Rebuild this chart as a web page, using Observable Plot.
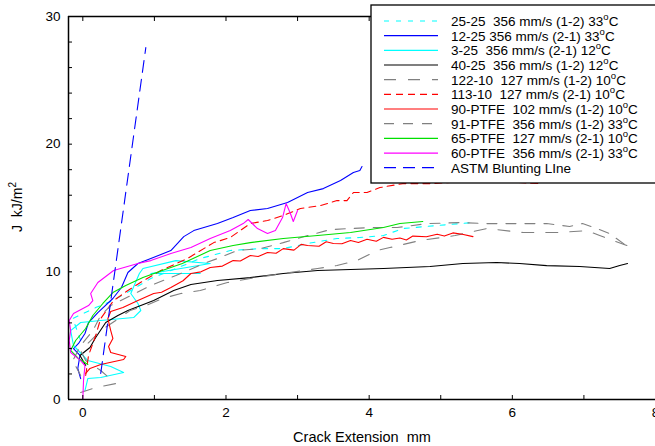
<!DOCTYPE html>
<html><head><meta charset="utf-8">
<script src="https://cdn.jsdelivr.net/npm/d3@7"></script>
<script src="https://cdn.jsdelivr.net/npm/@observablehq/plot@0.6"></script>
<style>
body{margin:0;background:#fff;}
#chart{width:655px;height:446px;overflow:hidden;}
text{font-family:"Liberation Sans",Arial,sans-serif;}
</style></head><body><div id="chart"></div>
<script>
// ---- data: [crack extension mm, J kJ/m^2] ----
const s25_25 = [[-0.03,4.62],[-0.14,6.34],[0.18,7.20],[0.42,7.75],[0.67,8.54],[0.95,9.48],[1.30,10.26],[1.64,11.04],[2.06,11.67],[2.48,11.82],[2.80,11.82],[3.14,12.22],[3.55,12.61],[3.87,12.69],[4.20,12.84],[4.47,13.39],[4.95,13.63],[5.45,13.86]];
const s12_25 = [[-0.03,1.64],[-0.07,2.43],[-0.04,3.45],[-0.13,3.99],[-0.06,4.39],[0.03,5.17],[0.08,6.03],[0.21,6.81],[0.42,7.91],[0.54,8.77],[0.63,9.95],[0.77,10.65],[0.95,11.04],[1.23,11.67],[1.41,12.76],[1.55,13.23],[1.88,13.78],[2.10,14.25],[2.34,14.80],[2.58,14.96],[2.86,15.43],[3.14,16.21],[3.36,16.52],[3.60,17.15],[3.78,17.78],[3.87,17.93],[3.90,18.25]];
const s3_25 = [[0.03,0.70],[0.07,1.64],[0.25,1.72],[0.57,2.11],[0.39,2.58],[0.07,3.05],[-0.13,4.23],[-0.17,5.40],[-0.03,6.03],[0.25,6.19],[0.71,6.42],[0.81,6.97],[0.77,7.52],[0.67,8.30],[0.79,9.87],[0.84,10.26],[1.30,10.88],[1.78,10.65],[1.37,10.26],[0.95,9.87],[1.64,9.87]];
const s40_25 = [[0.04,2.66],[-0.04,3.45],[0.10,4.07],[0.18,4.86],[0.32,6.03],[0.49,6.58],[0.63,6.97],[0.81,7.36],[0.99,7.75],[1.27,8.54],[1.51,9.01],[1.88,9.32],[2.34,9.55],[2.80,9.87],[3.28,10.10],[3.74,10.18],[4.20,10.26],[4.85,10.42],[5.31,10.65],[5.78,10.73],[6.10,10.65],[6.48,10.49],[6.94,10.42],[7.36,10.26],[7.50,10.49],[7.61,10.65]];
const s122_10 = [[-0.03,0.55],[0.18,0.94],[0.46,1.25],[0.25,2.27],[0.04,3.05],[-0.03,3.84],[0.11,4.62],[0.25,5.40],[0.46,6.19],[0.66,6.97],[0.88,7.36],[1.11,7.91],[1.37,8.30],[1.64,8.54],[2.02,9.16],[2.34,9.48],[2.80,9.87],[3.28,10.26],[3.55,10.49],[3.83,10.88],[4.11,11.67],[4.29,11.90],[4.71,12.45],[5.20,12.84],[5.64,13.39],[6.15,13.08],[6.66,13.08],[7.04,13.23],[7.22,12.84],[7.60,12.06]];
const s113_10 = [[0.04,1.88],[0.08,3.45],[0.18,5.01],[0.25,6.34],[0.43,7.75],[0.63,8.54],[0.85,9.32],[1.09,10.10],[1.46,11.04],[1.83,12.29],[2.06,12.69],[2.34,13.78],[2.58,14.02],[2.80,14.41],[3.04,14.96],[3.32,15.19],[3.55,15.58],[3.69,15.58],[3.78,16.21],[3.97,16.21],[4.15,16.60],[4.47,16.91],[4.88,16.91],[5.55,17.15],[6.38,16.91]];
const s90_PTFE = [[0.04,2.04],[0.10,2.43],[0.25,2.74],[0.57,3.13],[0.60,3.37],[0.39,3.68],[0.36,4.15],[0.42,4.78],[0.39,5.40],[0.35,6.34],[0.39,6.89],[0.56,7.20],[0.77,7.75],[0.99,8.30],[1.10,8.40],[1.23,8.77],[1.40,9.30],[1.51,9.87],[1.65,10.00],[1.78,10.34],[1.95,10.45],[2.10,10.88],[2.20,10.85],[2.34,11.28],[2.45,11.20],[2.58,11.51],[2.70,11.45],[2.80,11.82],[2.95,11.70],[3.05,12.15],[3.14,12.06],[3.30,12.00],[3.40,12.35],[3.50,12.22],[3.62,12.20],[3.74,12.45],[3.85,12.30],[3.97,12.55],[4.10,12.40],[4.20,12.70],[4.32,12.55],[4.43,12.65],[4.52,12.50],[4.61,12.80],[4.80,12.75],[4.95,12.95],[5.05,12.80],[5.17,13.05],[5.30,12.95],[5.45,12.76]];
const s91_PTFE = [[-0.03,1.88],[-0.14,3.05],[-0.03,4.23],[0.14,5.40],[0.25,6.58],[0.39,7.36],[0.67,8.14],[0.95,8.93],[1.30,9.71],[1.69,10.65],[1.88,11.04],[2.16,11.67],[2.48,11.82],[2.80,12.29],[3.14,12.84],[3.46,13.31],[3.74,13.39],[4.01,13.47],[4.39,13.47],[4.81,13.78],[5.27,13.86],[5.64,13.78],[6.15,13.78],[6.48,13.78],[6.80,13.55],[6.98,13.78],[7.18,13.39],[7.36,13.00],[7.61,11.98]];
const s65_PTFE = [[0.07,2.74],[-0.06,3.21],[-0.17,3.84],[-0.10,4.62],[0.04,5.56],[0.14,6.58],[0.28,7.52],[0.42,8.38],[0.60,8.93],[0.84,9.55],[1.11,10.10],[1.39,10.65],[1.78,11.67],[2.10,12.06],[2.34,12.29],[2.80,12.61],[3.28,12.84],[3.74,13.08],[4.20,13.47],[4.43,13.78],[4.75,13.94]];
const s60_PTFE = [[0,0],[0.01,1.49],[0.03,2.66],[-0.03,3.05],[-0.17,3.68],[-0.19,4.62],[-0.17,5.40],[-0.19,6.19],[-0.13,6.73],[0.08,7.36],[0.14,7.75],[0.11,8.30],[0.21,9.16],[0.43,10.10],[0.77,10.65],[0.95,10.88],[1.23,11.43],[1.51,11.90],[1.78,12.61],[2.06,13.23],[2.24,13.78],[2.31,14.10],[2.44,13.39],[2.58,13.00],[2.69,13.23],[2.79,14.25],[2.84,15.35],[2.90,14.57],[2.94,13.94],[3.00,14.80]];
const astmLine = [[0.25,2.04],[0.88,27.56]];

const legendNames = ["25-25  356 mm/s (1-2) 33","12-25 356 mm/s (2-1) 33","3-25  356 mm/s (2-1) 12","40-25  356 mm/s (1-2) 12","122-10  127 mm/s (1-2) 10","113-10  127 mm/s (2-1) 10","90-PTFE  102 mm/s (1-2) 10","91-PTFE  356 mm/s (1-2) 33","65-PTFE  127 mm/s (2-1) 10","60-PTFE  356 mm/s (2-1) 33","ASTM Blunting LIne"];
const xTicks = [0,2,4,6,8];
const xMinor = [0,1,2,3,4,5,6,7,8];
const yTicks = [0,10,20,30];
const yMinor = [0,2,4,6,8,10,12,14,16,18,20,22,24,26,28,30];

// ---- styles (separate from data) ----
const series = [
  {data:s25_25,  stroke:"#00ffff", dash:"5,7", deg:true},
  {data:s12_25,  stroke:"#0000ff", dash:null, deg:true},
  {data:s3_25,   stroke:"#00ffff", dash:null, deg:true},
  {data:s40_25,  stroke:"#000000", dash:null, deg:true},
  {data:s122_10, stroke:"#808080", dash:"12,12", deg:true},
  {data:s113_10, stroke:"#ff0000", dash:"7,5", deg:true},
  {data:s90_PTFE,stroke:"#ff0000", dash:null, deg:true},
  {data:s91_PTFE,stroke:"#808080", dash:"10,9", deg:true},
  {data:s65_PTFE,stroke:"#00e000", dash:null, deg:true},
  {data:s60_PTFE,stroke:"#ff00ff", dash:null, deg:true},
  {data:astmLine,stroke:"#0000ff", dash:"12,7", deg:false}
];

const lineMarks = series.map(s => Plot.line(s.data, {
  x: d => d[0], y: d => d[1], stroke: s.stroke, strokeWidth: 1.1,
  strokeDasharray: s.dash ?? undefined, clip: true
}));

const chart = Plot.plot({
  width: 655, height: 446,
  marginLeft: 68, marginRight: 0, marginTop: 16, marginBottom: 47,
  style: {fontFamily: "'Liberation Sans', Arial, sans-serif", fontSize: "13.5px", color: "#000", background: "#fff"},
  x: {domain: [-0.2, 8], label: null},
  y: {domain: [0, 30], label: null},
  marks: [
    ...lineMarks,
    Plot.axisX({ticks: xTicks, tickSize: 0, tickPadding: 8, tickFormat: d => String(d), fontSize: 13.5}),
    Plot.axisX({ticks: xMinor, tickSize: -4, text: null, strokeWidth: 1}),
    Plot.axisX({anchor: "top", ticks: xMinor, tickSize: -4, text: null, strokeWidth: 1}),
    Plot.axisY({ticks: yTicks, tickSize: 0, tickPadding: 8, tickFormat: d => String(d), fontSize: 13.5}),
    Plot.axisY({ticks: yMinor, tickSize: -4, text: null, strokeWidth: 1}),
    Plot.ruleX([-0.2], {stroke: "#000", strokeWidth: 1.5}),
    Plot.ruleY([0], {stroke: "#000", strokeWidth: 1.5}),
    Plot.ruleY([30], {stroke: "#000", strokeWidth: 1.5})
  ]
});
document.getElementById("chart").appendChild(chart);

const svg = d3.select(chart);
const font = "'Liberation Sans', Arial, sans-serif";
// axis titles
svg.append("text").attr("x", 362).attr("y", 442).attr("text-anchor", "middle")
  .attr("font-family", font).attr("font-size", 14.5).style("white-space", "pre")
  .text("Crack Extension  mm");
const yl = svg.append("text").attr("transform", "translate(22,207) rotate(-90)")
  .attr("text-anchor", "middle").attr("font-family", font).attr("font-size", 14).style("white-space", "pre");
yl.append("tspan").text("J  kJ/m");
yl.append("tspan").attr("dy", -6).attr("font-size", 10).text("2");

// legend
const lg = svg.append("g").attr("text-anchor", "start");
lg.append("rect").attr("x", 371).attr("y", 5).attr("width", 300).attr("height", 178)
  .attr("fill", "#fff").attr("stroke", "#000").attr("stroke-width", 1.3);
series.forEach((s, i) => {
  const cy = 21 + i * 14.67;
  lg.append("line").attr("x1", 384).attr("x2", 438).attr("y1", cy).attr("y2", cy)
    .attr("stroke", s.stroke).attr("stroke-width", 1.2)
    .attr("stroke-dasharray", s.dash);
  const t = lg.append("text").attr("x", 451).attr("y", cy + 5).attr("text-anchor", "start")
    .attr("font-family", font).attr("font-size", 13.5).style("white-space", "pre");
  t.append("tspan").text(legendNames[i]);
  if (s.deg) {
    t.append("tspan").attr("dy", -6).attr("font-size", 9.5).text("o");
    t.append("tspan").attr("dy", 6).attr("font-size", 13.5).text("C");
  }
});
</script></body></html>
